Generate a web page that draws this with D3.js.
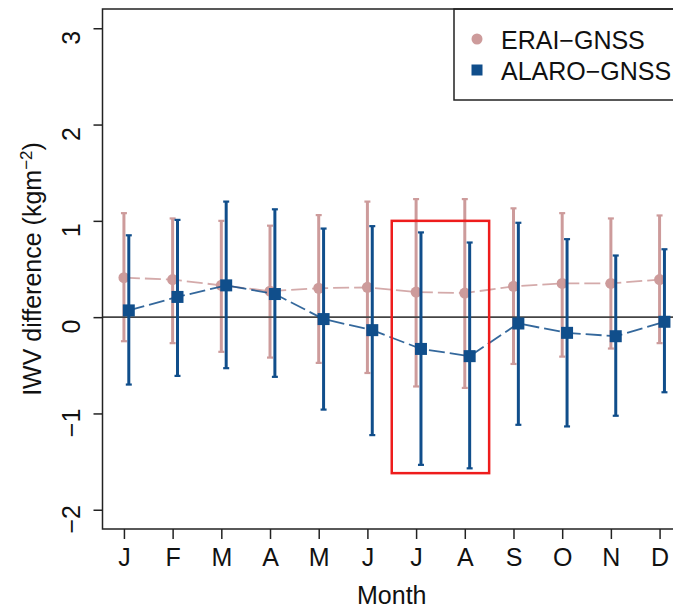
<!DOCTYPE html>
<html>
<head>
<meta charset="utf-8">
<script src="https://cdn.jsdelivr.net/npm/d3@7"></script>
<style>
  html, body { margin: 0; padding: 0; background: #fff; }
  svg { display: block; font-family: "Liberation Sans", Arial, sans-serif; }
</style>
</head>
<body>
<svg id="chart" width="673" height="609"></svg>
<script>
// Monthly IWV differences against GNSS: mean and spread per month
const months = ["J", "F", "M", "A", "M", "J", "J", "A", "S", "O", "N", "D"];
const monthIndex = [1, 2, 3, 4, 5, 6, 7, 8, 9, 10, 11, 12];

const eraiMean  = [0.41, 0.39, 0.33, 0.27, 0.30, 0.31, 0.26, 0.25, 0.32, 0.35, 0.35, 0.39];
const eraiUpper = [1.08, 1.025, 1.00, 0.95, 1.06, 1.20, 1.226, 1.226, 1.13, 1.08, 1.025, 1.056];
const eraiLower = [-0.25, -0.27, -0.36, -0.42, -0.475, -0.58, -0.72, -0.735, -0.486, -0.41, -0.326, -0.27];

const alaroMean  = [0.07, 0.21, 0.33, 0.24, -0.02, -0.135, -0.33, -0.405, -0.066, -0.163, -0.198, -0.048];
const alaroUpper = [0.85, 1.01, 1.20, 1.12, 0.92, 0.945, 0.88, 0.775, 0.98, 0.81, 0.64, 0.705];
const alaroLower = [-0.70, -0.61, -0.53, -0.62, -0.96, -1.225, -1.534, -1.57, -1.118, -1.135, -1.024, -0.78];

const yTicks = [-2, -1, 0, 1, 2, 3];
const seriesNames = ["ERAI\u2212GNSS", "ALARO\u2212GNSS"];

// Summer months outlined in red (Jul–Aug)
const highlightX = [6.5, 8.5];
const highlightY = [-1.62, 1.0];

const pink = "#CD9B9B";
const blue = "#104E8B";

const svg = d3.select("#chart");
const plotLeft = 102.5, plotRight = 681, plotTop = 9, plotBottom = 529;

const x = d3.scaleLinear().domain([0.56, 12.44]).range([plotLeft, plotRight]);
const y = d3.scaleLinear().domain([-2.2, 3.2]).range([plotBottom, plotTop]);

const rows = (mean, lo, hi, shift) => monthIndex.map((m, i) => ({ m: m + shift, v: mean[i], lo: lo[i], hi: hi[i] }));
const erai = rows(eraiMean, eraiLower, eraiUpper, 0);
const alaro = rows(alaroMean, alaroLower, alaroUpper, 0.1);

function drawSeries(data, color, shape) {
  const g = svg.append("g");
  // error bars with short caps
  const bars = g.selectAll(".bar").data(data).enter().append("g");
  bars.append("line")
    .attr("x1", d => x(d.m)).attr("x2", d => x(d.m))
    .attr("y1", d => y(d.lo)).attr("y2", d => y(d.hi))
    .attr("stroke", color).attr("stroke-width", 3);
  ["lo", "hi"].forEach(k => {
    bars.append("line")
      .attr("x1", d => x(d.m) - 3).attr("x2", d => x(d.m) + 3)
      .attr("y1", d => y(d[k])).attr("y2", d => y(d[k]))
      .attr("stroke", color).attr("stroke-width", 2.2);
  });
  // dashed connecting line
  g.append("path")
    .datum(data)
    .attr("d", d3.line().x(d => x(d.m)).y(d => y(d.v)))
    .attr("fill", "none").attr("stroke", color).attr("stroke-width", 1.8)
    .attr("stroke-dasharray", "16,5").attr("opacity", 0.85);
  // markers
  if (shape === "circle") {
    g.selectAll("circle").data(data).enter().append("circle")
      .attr("cx", d => x(d.m)).attr("cy", d => y(d.v)).attr("r", 5.5)
      .attr("fill", color);
  } else {
    g.selectAll("rect").data(data).enter().append("rect")
      .attr("x", d => x(d.m) - 6).attr("y", d => y(d.v) - 6)
      .attr("width", 12).attr("height", 12).attr("fill", color);
  }
}

drawSeries(erai, pink, "circle");

// zero reference line
svg.append("line")
  .attr("x1", plotLeft).attr("x2", plotRight)
  .attr("y1", y(0)).attr("y2", y(0))
  .attr("stroke", "#444").attr("stroke-width", 1.6);

drawSeries(alaro, blue, "square");

// highlight rectangle
svg.append("rect")
  .attr("x", x(highlightX[0])).attr("y", y(highlightY[1]))
  .attr("width", x(highlightX[1]) - x(highlightX[0]))
  .attr("height", y(highlightY[0]) - y(highlightY[1]))
  .attr("fill", "none").attr("stroke", "#ee1c1c").attr("stroke-width", 2.5);

// legend
const lg = svg.append("g");
lg.append("rect").attr("x", 454).attr("y", plotTop).attr("width", 260).attr("height", 91)
  .attr("fill", "#fff").attr("stroke", "#222").attr("stroke-width", 1.5);
lg.append("circle").attr("cx", 477).attr("cy", 39).attr("r", 5.5).attr("fill", pink);
lg.append("rect").attr("x", 471.5).attr("y", 64.5).attr("width", 11).attr("height", 11).attr("fill", blue);
lg.selectAll("text.leg").data(seriesNames).enter().append("text")
  .attr("x", 501).attr("y", (d, i) => 48.5 + i * 31.5)
  .attr("font-size", 25).attr("fill", "#111").text(d => d);

// axes
const yAxis = d3.axisLeft(y).tickValues(yTicks).tickSize(9).tickFormat(d => d < 0 ? "\u2212" + Math.abs(d) : d);
const yg = svg.append("g").attr("transform", `translate(${plotLeft},0)`).call(yAxis);
yg.select(".domain").remove();
yg.selectAll(".tick line").attr("stroke", "#222").attr("stroke-width", 1.5);
yg.selectAll(".tick text")
  .attr("font-size", 25).attr("fill", "#111").attr("font-family", "Liberation Sans, Arial, sans-serif")
  .attr("x", null).attr("dy", null).attr("text-anchor", "middle")
  .attr("transform", "translate(-23,9) rotate(-90)");

const xAxis = d3.axisBottom(x).tickValues(monthIndex).tickSize(10).tickFormat((d, i) => months[i]);
const xg = svg.append("g").attr("transform", `translate(0,${plotBottom})`).call(xAxis);
xg.select(".domain").remove();
xg.selectAll(".tick line").attr("stroke", "#222").attr("stroke-width", 1.5);
xg.selectAll(".tick text")
  .attr("font-size", 25).attr("fill", "#111").attr("font-family", "Liberation Sans, Arial, sans-serif")
  .attr("y", 37).attr("dy", null);

// plot frame
svg.append("rect").attr("x", plotLeft).attr("y", plotTop)
  .attr("width", plotRight - plotLeft).attr("height", plotBottom - plotTop)
  .attr("fill", "none").attr("stroke", "#222").attr("stroke-width", 1.5);

// axis titles
svg.append("text").attr("x", (plotLeft + plotRight) / 2).attr("y", 604)
  .attr("text-anchor", "middle").attr("font-size", 25).attr("fill", "#111").text("Month");

const yt = svg.append("text")
  .attr("transform", `translate(41,${(plotTop + plotBottom) / 2}) rotate(-90)`)
  .attr("text-anchor", "middle").attr("font-size", 25).attr("fill", "#111");
yt.append("tspan").text("IWV difference (kgm");
yt.append("tspan").attr("font-size", 17).attr("dy", -9).text("\u22122");
yt.append("tspan").attr("dy", 9).text(")");
</script>
</body>
</html>
